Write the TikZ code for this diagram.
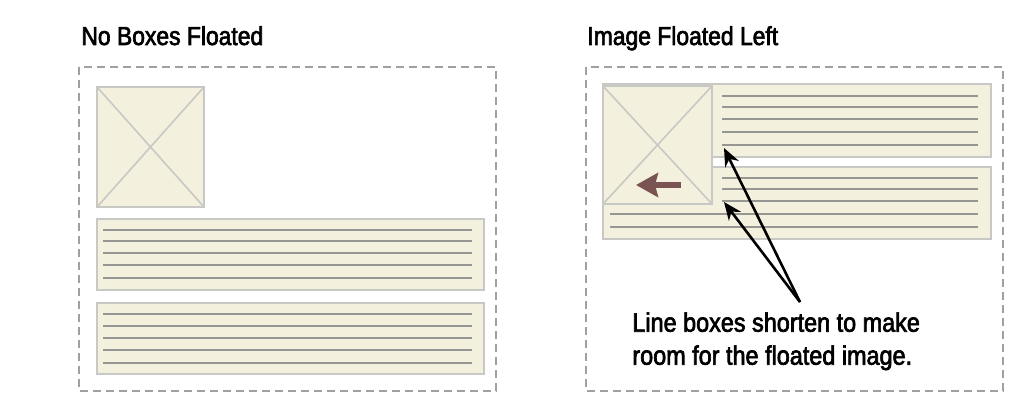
\documentclass[tikz,border=0pt]{standalone}
\usepackage{fontspec}
\setmainfont{Liberation Sans}[FakeStretch=0.88, FakeBold=2.5]
\usetikzlibrary{arrows.meta}
\definecolor{boxfill}{RGB}{243,240,221}
\definecolor{boxedge}{RGB}{200,200,196}
\definecolor{rulegray}{RGB}{150,150,146}
\definecolor{dashgray}{RGB}{160,160,160}
\definecolor{floatred}{RGB}{122,84,82}

\begin{document}
\begin{tikzpicture}[x=0.5pt, y=-0.5pt, font=\fontsize{13}{16.5}\selectfont,
	frame/.style={draw=dashgray, line width=0.7pt, dash pattern=on 4pt off 2.5pt},
	linebox/.style={draw=boxedge, fill=boxfill, line width=0.9pt},
	imagebox/.style={draw=boxedge, fill=boxfill, line width=0.9pt},
	textline/.style={draw=rulegray, line width=1.2pt},
	pointer/.style={draw=black, line width=1.3pt, -{Stealth[length=9pt, width=7.5pt]}}
	]
	\useasboundingbox (0,0) rectangle (1030,401);
	%left panel
	\node[anchor=base west, inner sep=0] (left title) at (81,45) {No Boxes Floated};
	\draw[frame] (79,67) rectangle (496,391);
	\draw[imagebox] (97,87) rectangle (204,207);
	\draw[boxedge, line width=0.8pt] (97,87) -- (204,207) (97,207) -- (204,87);
	\draw[linebox] (97,219) rectangle (484,290);
	\foreach \y in {230,241,253,265,278}
	\draw[textline] (103,\y) -- (472,\y);
	\draw[linebox] (97,303) rectangle (484,374);
	\foreach \y in {314,326,338,350,363}
	\draw[textline] (103,\y) -- (472,\y);
	%right panel
	\node[anchor=base west, inner sep=0] (right title) at (587,45) {Image Floated Left};
	\draw[frame] (586,67) rectangle (1003,391);
	\draw[linebox] (603,84) rectangle (991,157);
	\foreach \y in {96,107,119,132,145}
	\draw[textline] (722,\y) -- (978,\y);
	\draw[linebox] (603,167) rectangle (991,239);
	\foreach \y in {178,189,201}
	\draw[textline] (722,\y) -- (978,\y);
	\foreach \y in {214,227}
	\draw[textline] (610,\y) -- (978,\y);
	%floated image
	\draw[imagebox] (603,86) rectangle (712,204);
	\draw[boxedge, line width=0.8pt] (603,86) -- (712,204) (603,204) -- (712,86);
	\draw[floatred, line width=3pt, -{Stealth[length=11pt, width=12pt, inset=1.5pt]}] (681,185) -- (636,185);
	%callout
	\node[anchor=north west, inner sep=0, align=left, font=\fontsize{13.3}{16.5}\selectfont] (note) at (632,312)
	{Line boxes shorten to make\\room for the floated image.};
	\coordinate (note tip) at (800,302);
	\coordinate (upper gap) at (724,148);
	\coordinate (lower gap) at (724,202);
	\draw[pointer] (note tip) -- (upper gap);
	\draw[pointer] (note tip) -- (lower gap);
\end{tikzpicture}
\end{document}
